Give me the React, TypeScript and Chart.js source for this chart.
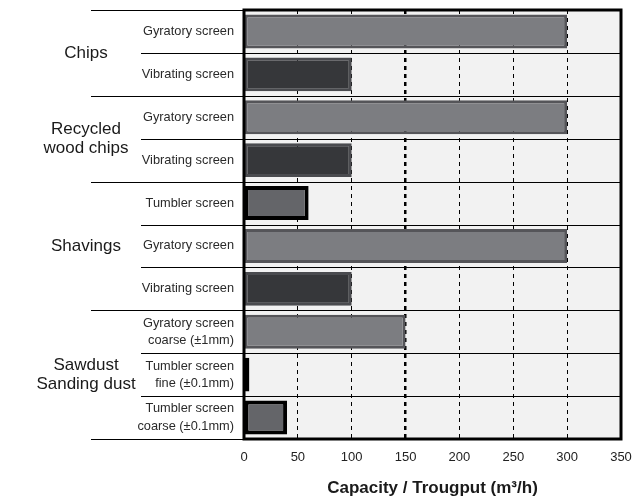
import React, { useEffect, useRef } from "react";
import { Chart, registerables } from "chart.js";
Chart.register(...registerables);

const subLabels: (string | string[])[] = [
  "Gyratory screen",
  "Vibrating screen",
  "Gyratory screen",
  "Vibrating screen",
  "Tumbler screen",
  "Gyratory screen",
  "Vibrating screen",
  ["Gyratory screen", "coarse (±1mm)"],
  ["Tumbler screen", "fine (±0.1mm)"],
  ["Tumbler screen", "coarse (±0.1mm)"],
];
const capacity = [300, 100, 300, 100, 60, 300, 100, 150, 5, 40];
const screenTypes = [
  "gyratory", "vibrating", "gyratory", "vibrating",
  "tumbler", "gyratory", "vibrating",
  "gyratory", "tumbler", "tumbler",
];
const groupLabels = [["Chips"], ["Recycled", "wood chips"], ["Shavings"], ["Sawdust", "Sanding dust"]];
const groupSizes = [2, 2, 3, 3];
const xMin = 0;
const xMax = 350;
const xStep = 50;
const axisTitle = "Capacity / Trougput (m³/h)";

const fills: Record<string, string> = { gyratory: "#7c7d81", vibrating: "#36373a", tumbler: "#646569" };
const borders: Record<string, string> = { gyratory: "#555559", vibrating: "#4a4b4f", tumbler: "#000000" };
const bwidths: Record<string, number> = { gyratory: 3, vibrating: 3, tumbler: 4 };

const FONT = "'Liberation Sans', Arial, sans-serif";

const groupPlugin = {
  id: "groupPlugin",
  beforeDraw(chart: any) {
    const { ctx, chartArea: a } = chart;
    ctx.save();
    ctx.fillStyle = "#f2f2f2";
    ctx.fillRect(a.left, a.top, a.right - a.left, a.bottom - a.top);
    ctx.restore();
  },
  afterDraw(chart: any) {
    const { ctx, chartArea: a } = chart;
    const y = chart.scales.y;
    const n = subLabels.length;
    const p = (i: number) => y.getPixelForValue(i);
    const half = (p(1) - p(0)) / 2;
    const bound = (i: number) => (i === 0 ? p(0) - half : i === n ? p(n - 1) + half : (p(i - 1) + p(i)) / 2);
    const groupStarts: number[] = [];
    let acc = 0;
    for (const s of groupSizes) { groupStarts.push(acc); acc += s; }
    groupStarts.push(n);
    ctx.save();
    ctx.strokeStyle = "#000";
    ctx.lineWidth = 1;
    for (let i = 0; i <= n; i++) {
      const yy = Math.round(bound(i)) + 0.5;
      const isGroup = groupStarts.includes(i);
      ctx.beginPath();
      ctx.moveTo(isGroup ? 91 : 141, yy);
      ctx.lineTo(a.right, yy);
      ctx.stroke();
    }
    // group labels
    ctx.fillStyle = "#1a1a1a";
    ctx.font = `17px ${FONT}`;
    ctx.textAlign = "center";
    ctx.textBaseline = "middle";
    groupLabels.forEach((lines, g) => {
      const cy = (bound(groupStarts[g]) + bound(groupStarts[g + 1])) / 2;
      const lh = 19;
      lines.forEach((t, k) => {
        ctx.fillText(t, 86, cy + (k - (lines.length - 1) / 2) * lh);
      });
    });
    // plot border
    ctx.lineWidth = 3;
    ctx.strokeRect(a.left, a.top, a.right - a.left, a.bottom - a.top);
    ctx.restore();
  },
};

export default function App() {
  const ref = useRef<HTMLCanvasElement>(null);
  useEffect(() => {
    document.body.style.margin = "0";
    const chart = new Chart(ref.current!, {
      type: "bar",
      data: {
        labels: subLabels,
        datasets: [
          {
            data: capacity,
            backgroundColor: screenTypes.map((t) => fills[t]),
            borderColor: screenTypes.map((t) => borders[t]),
            borderWidth: screenTypes.map((t) => bwidths[t]),
            borderSkipped: false,
            categoryPercentage: 1,
            barPercentage: 0.79,
          },
        ],
      },
      options: {
        indexAxis: "y",
        responsive: false,
        animation: false,
        devicePixelRatio: 1,
        layout: { padding: { top: 10, right: 18, left: 0, bottom: 0 } },
        plugins: { legend: { display: false }, tooltip: { enabled: false } },
        scales: {
          x: {
            min: xMin,
            max: xMax,
            ticks: { stepSize: xStep, color: "#222", font: { family: FONT, size: 13 }, padding: 11 },
            grid: {
              drawTicks: false,
              color: (c: any) => (c.tick && (c.tick.value === xMin || c.tick.value === xMax) ? "rgba(0,0,0,0)" : "#000"),
              lineWidth: (c: any) => (c.tick && c.tick.value === 150 ? 2.5 : 1),
            },
            border: { display: false, dash: [4, 4] },
            title: {
              display: true,
              text: axisTitle,
              color: "#1a1a1a",
              font: { family: FONT, size: 17, weight: "bold" },
              padding: { top: 14, bottom: 0 },
            },
            afterFit: (s: any) => {
              s.height = 60;
              s.paddingLeft = 0;
              s.paddingRight = 0;
            },
          },
          y: {
            ticks: { color: "#2a2a2a", font: { family: FONT, size: 12.8, lineHeight: 1.35 }, padding: 10 },
            grid: { display: false, drawTicks: false },
            border: { display: false },
            afterFit: (s: any) => {
              s.width = 244;
              s.paddingTop = 0;
              s.paddingBottom = 0;
            },
          },
        },
      },
      plugins: [groupPlugin],
    } as any);
    return () => chart.destroy();
  }, []);
  return (
    <div style={{ width: 639, height: 499 }}>
      <canvas ref={ref} width={639} height={499} />
    </div>
  );
}
